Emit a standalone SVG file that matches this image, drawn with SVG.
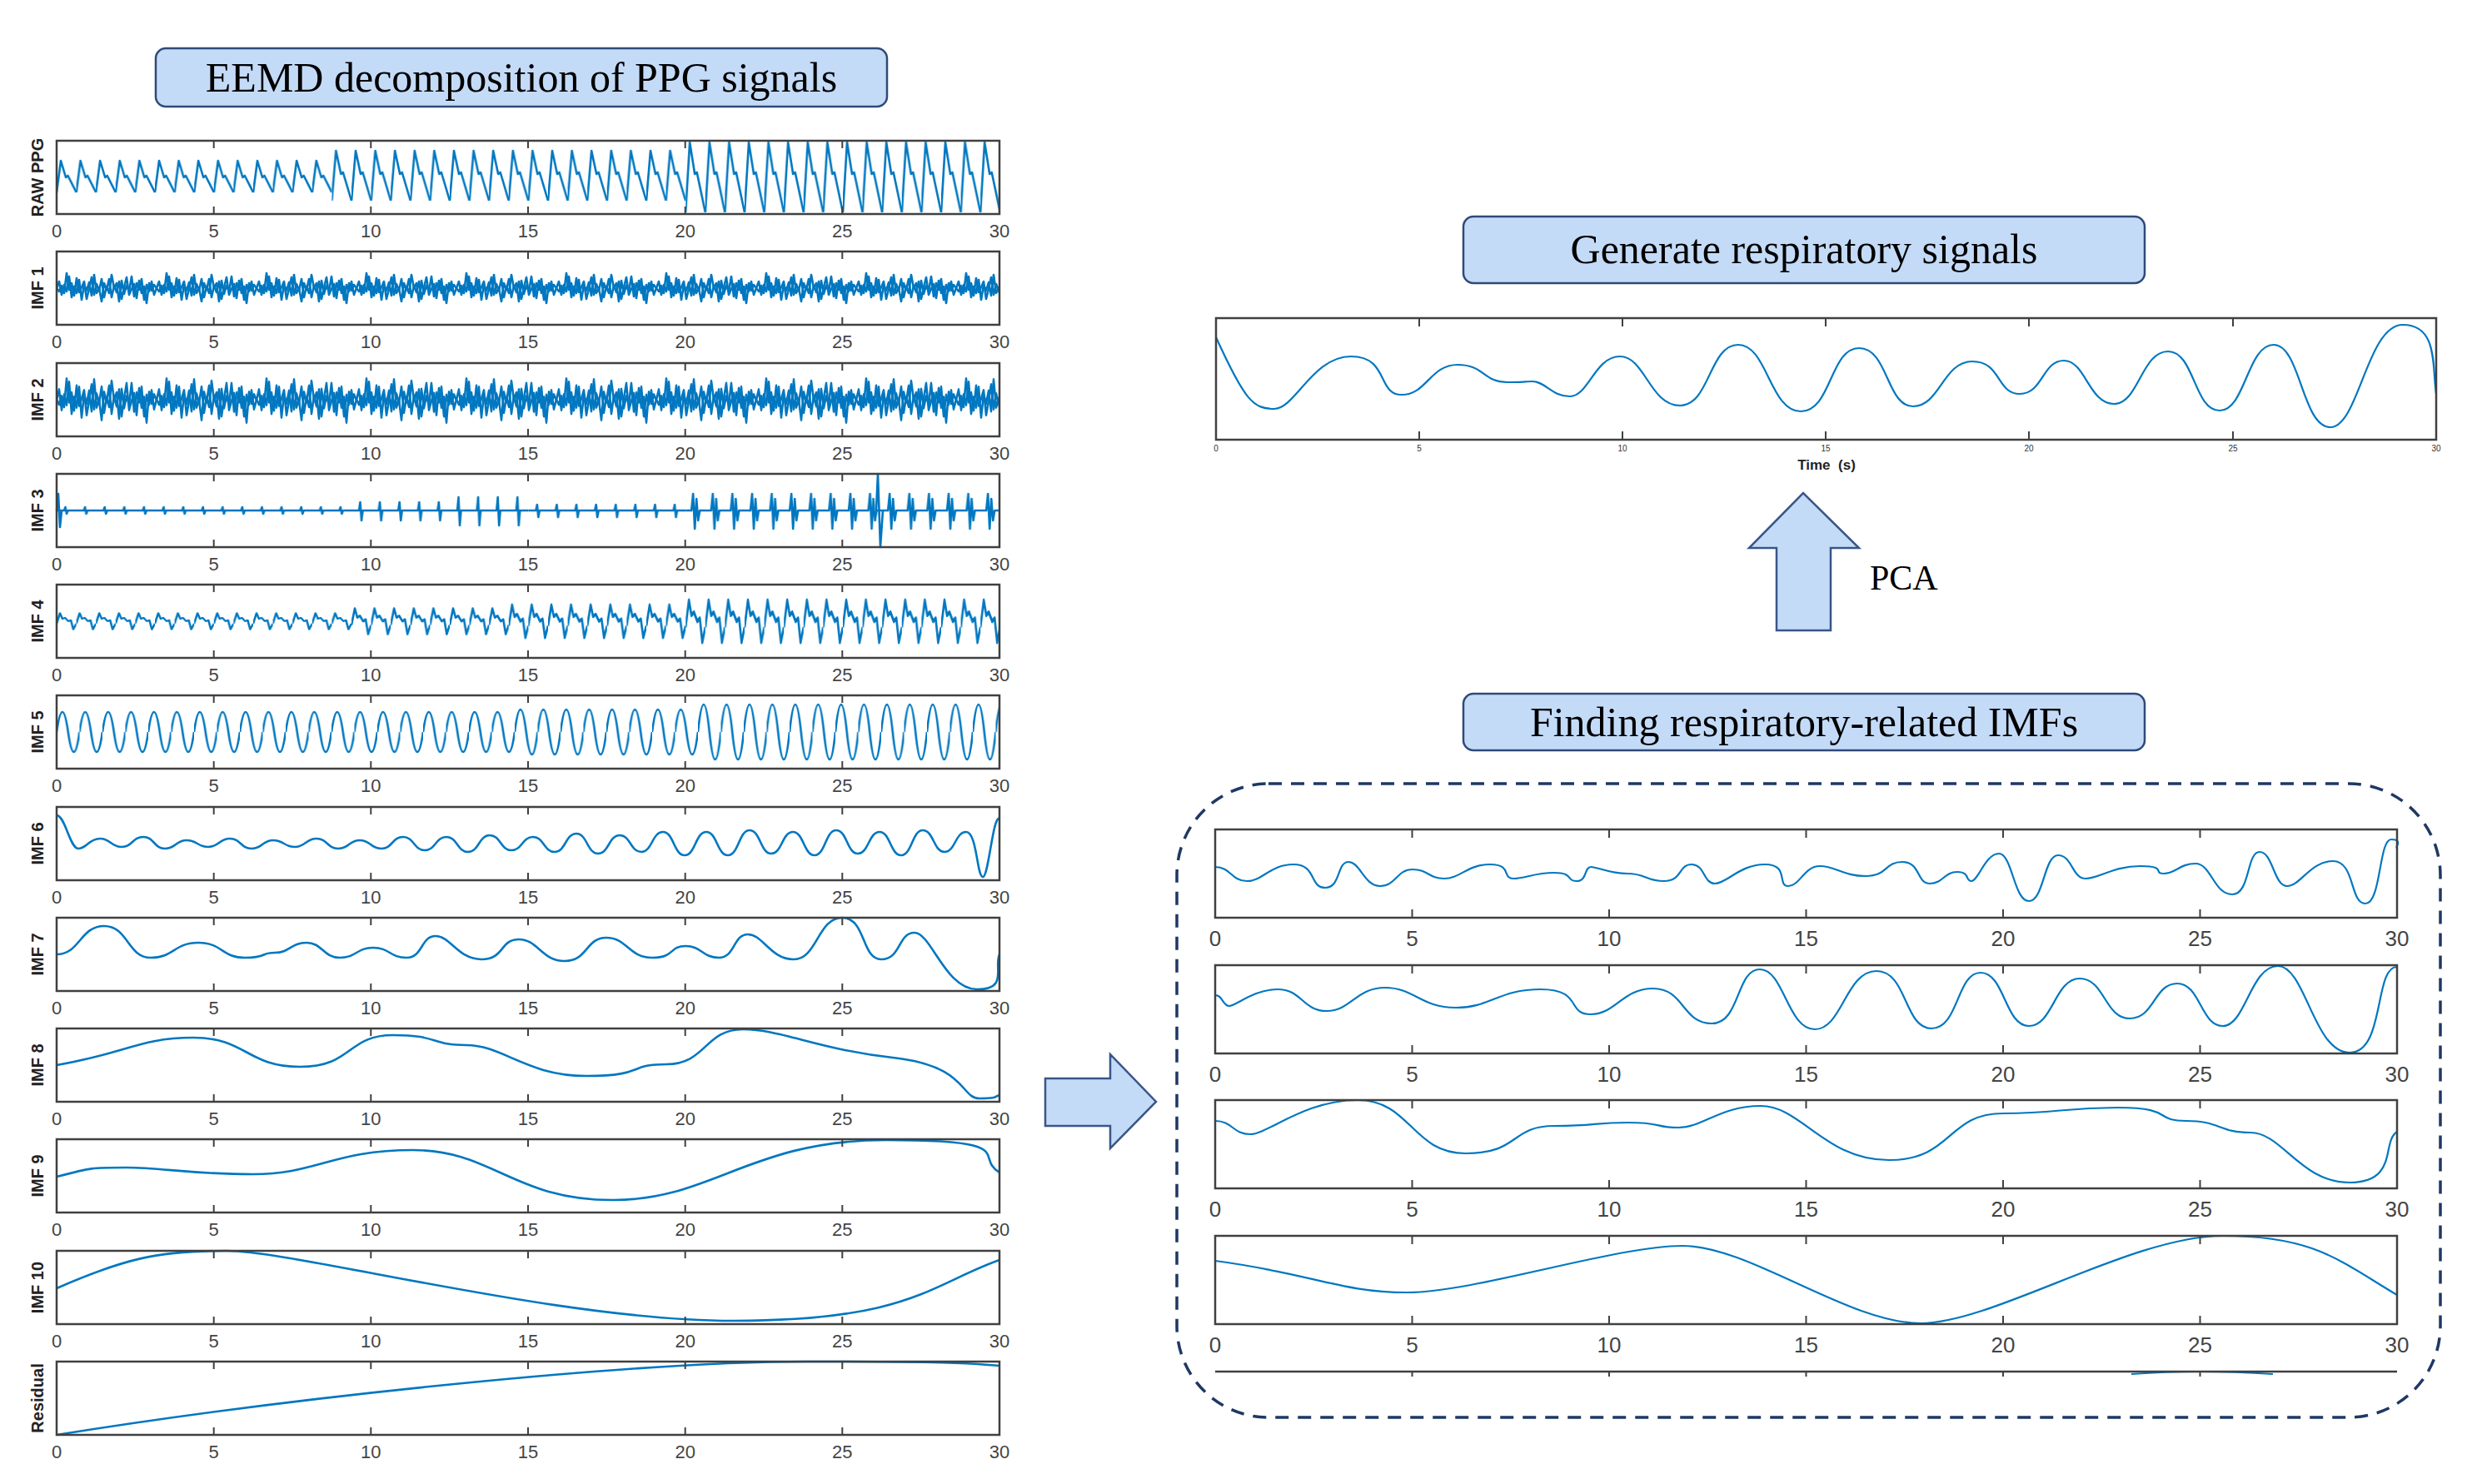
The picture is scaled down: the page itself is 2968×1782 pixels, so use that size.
<svg xmlns="http://www.w3.org/2000/svg" xmlns:xlink="http://www.w3.org/1999/xlink" width="2968" height="1782" viewBox="0 0 2968 1782">
<style>
.ax{fill:none;stroke:#404040;stroke-width:2.5}
.tk{fill:none;stroke:#404040;stroke-width:2}
.sg{fill:none;stroke:#0077C0;stroke-width:2.6;stroke-linejoin:round}
.sgt{fill:none;stroke:#0077C0;stroke-width:2.2}
.tl{font-family:"Liberation Sans",Arial,sans-serif;font-size:22px;fill:#444;text-anchor:middle}
.tr{font-family:"Liberation Sans",Arial,sans-serif;font-size:26px;fill:#444;text-anchor:middle}
.tt{font-family:"Liberation Sans",Arial,sans-serif;font-size:10px;fill:#333;text-anchor:middle}
.yl{font-family:"Liberation Sans",Arial,sans-serif;font-size:20px;font-weight:bold;fill:#222;text-anchor:middle}
.box{fill:#C4DBF8;stroke:#2E4A78;stroke-width:2.5}
.bt{font-family:"Liberation Serif","Times New Roman",serif;font-size:50px;fill:#000;text-anchor:middle}
.arr{fill:#C4DBF8;stroke:#3A5688;stroke-width:2.5}
</style>
<defs>
<path id="tkL" class="tk" d="M0,0v9M188.7,0v9M377.3,0v9M566,0v9M754.7,0v9M943.3,0v9M1132,0v9M0,88v-9M188.7,88v-9M377.3,88v-9M566,88v-9M754.7,88v-9M943.3,88v-9M1132,88v-9"/>
<path id="tkR" class="tk" d="M236.5,0v10M473,0v10M709.5,0v10M946,0v10M1182.5,0v10M236.5,106v-10M473,106v-10M709.5,106v-10M946,106v-10M1182.5,106v-10"/>
<path id="n1" d="M0,44 L3,36 6,52 9,40 12,48 15,30 18,55 21,42 24,50 27,34 30,58 33,40 36,47 39,37 42,53 45,28 48,50 51,44 54,60 57,38 60,46 63,33 66,55 69,41 72,49 75,36 78,57 81,43 84,31 87,52 90,45 93,39 96,56 99,35 102,50 105,42 108,62 111,38 114,47 117,40 120,44"/>
<path id="b4" d="M0,48 L4,30 7,40 10,38 14,44 17,42 20,58 23.6,48"/>
<pattern id="pn1" patternUnits="userSpaceOnUse" x="0" y="0" width="120" height="88">
<use xlink:href="#n1" class="sg" stroke-width="2"/>
<use xlink:href="#n1" class="sg" stroke-width="2" transform="translate(120,88) scale(-1,-1)"/>
</pattern>
<pattern id="pn2" patternUnits="userSpaceOnUse" x="0" y="0" width="120" height="88">
<use xlink:href="#n1" class="sg" stroke-width="2" transform="translate(0,44) scale(1,1.5) translate(0,-44)"/>
<use xlink:href="#n1" class="sg" stroke-width="2" transform="translate(120,44) scale(-1,-1.4) translate(0,-44)"/>
</pattern>
<pattern id="z3" patternUnits="userSpaceOnUse" width="23.6" height="88"><path class="sg" d="M0,44 H9 L10.5,40 12,48 13.5,44 H23.6"/></pattern>
<pattern id="z8" patternUnits="userSpaceOnUse" width="23.6" height="88"><path class="sg" d="M0,44 H9 L10.5,34 12,56 13.5,44 H23.6"/></pattern>
<pattern id="z14" patternUnits="userSpaceOnUse" width="23.6" height="88"><path class="sg" d="M0,44 H9 L10.5,28 12,62 13.5,44 H23.6"/></pattern>
<pattern id="z6" patternUnits="userSpaceOnUse" width="23.6" height="88"><path class="sg" d="M0,44 H9 L10.5,37 12,52 13.5,44 H23.6"/></pattern>
<pattern id="z22" patternUnits="userSpaceOnUse" width="23.6" height="88"><path class="sg" d="M0,44 H7 L9,24 11,66 13,30 15,56 17,44 H23.6"/></pattern>
<pattern id="w6" patternUnits="userSpaceOnUse" width="23.6" height="88"><use xlink:href="#b4" class="sg" transform="translate(0,44) scale(1,0.7) translate(0,-44)"/></pattern>
<pattern id="w11" patternUnits="userSpaceOnUse" width="23.6" height="88"><use xlink:href="#b4" class="sg" transform="translate(0,44) scale(1,1.1) translate(0,-44)"/></pattern>
<pattern id="w14" patternUnits="userSpaceOnUse" width="23.6" height="88"><use xlink:href="#b4" class="sg" transform="translate(0,44) scale(1,1.4) translate(0,-44)"/></pattern>
<pattern id="w18" patternUnits="userSpaceOnUse" width="23.6" height="88"><use xlink:href="#b4" class="sg" transform="translate(0,44) scale(1,1.8) translate(0,-44)"/></pattern>
<pattern id="s15" patternUnits="userSpaceOnUse" width="27.5" height="88"><path class="sg" d="M0,44 Q6.875,-4 13.75,44 T27.5,44"/></pattern>
<pattern id="s18" patternUnits="userSpaceOnUse" width="27.5" height="88"><path class="sg" d="M0,44 Q6.875,-10 13.75,44 T27.5,44"/></pattern>
<pattern id="s22" patternUnits="userSpaceOnUse" width="27.5" height="88"><path class="sg" d="M0,44 Q6.875,-22 13.75,44 T27.5,44"/></pattern>
<pattern id="pA" patternUnits="userSpaceOnUse" width="23.6" height="88"><path class="sg" d="M0,62 L5,24 11,44 13.5,42 23.6,62"/></pattern>
<pattern id="pB" patternUnits="userSpaceOnUse" width="23.6" height="88"><path class="sg" d="M0,72 L5,12 11,40 13.5,38 23.6,72"/></pattern>
<pattern id="pC" patternUnits="userSpaceOnUse" width="23.6" height="88"><path class="sg" d="M0,86 L5,2 11,40 13.5,38 23.6,86"/></pattern>
</defs>

<g id="title-eemd">
<rect class="box" x="187" y="58" width="878" height="70" rx="12"/>
<text class="bt" x="626" y="110">EEMD decomposition of PPG signals</text>
</g>

<g id="plot-raw" transform="translate(68,169)">
<rect x="0" y="0" width="330.4" height="88" fill="url(#pA)"/><rect x="330.4" y="0" width="424.8" height="88" fill="url(#pB)"/><rect x="755.2" y="0" width="376.8" height="88" fill="url(#pC)"/>
<rect class="ax" width="1132" height="88"/><use xlink:href="#tkL"/>
<text class="yl" transform="translate(-16,44) rotate(-90)">RAW PPG</text>
<text class="tl" x="0" y="116">0</text><text class="tl" x="188.7" y="116">5</text><text class="tl" x="377.3" y="116">10</text><text class="tl" x="566" y="116">15</text><text class="tl" x="754.7" y="116">20</text><text class="tl" x="943.3" y="116">25</text><text class="tl" x="1132" y="116">30</text>
</g>
<g id="plot-imf1" transform="translate(68,302)">
<rect width="1132" height="88" fill="url(#pn1)"/>
<rect class="ax" width="1132" height="88"/><use xlink:href="#tkL"/>
<text class="yl" transform="translate(-16,44) rotate(-90)">IMF 1</text>
<text class="tl" x="0" y="116">0</text><text class="tl" x="188.7" y="116">5</text><text class="tl" x="377.3" y="116">10</text><text class="tl" x="566" y="116">15</text><text class="tl" x="754.7" y="116">20</text><text class="tl" x="943.3" y="116">25</text><text class="tl" x="1132" y="116">30</text>
</g>
<g id="plot-imf2" transform="translate(68,436)">
<rect width="1132" height="88" fill="url(#pn2)"/>
<rect class="ax" width="1132" height="88"/><use xlink:href="#tkL"/>
<text class="yl" transform="translate(-16,44) rotate(-90)">IMF 2</text>
<text class="tl" x="0" y="116">0</text><text class="tl" x="188.7" y="116">5</text><text class="tl" x="377.3" y="116">10</text><text class="tl" x="566" y="116">15</text><text class="tl" x="754.7" y="116">20</text><text class="tl" x="943.3" y="116">25</text><text class="tl" x="1132" y="116">30</text>
</g>
<g id="plot-imf3" transform="translate(68,569)">
<rect x="0" width="354" height="88" fill="url(#z3)"/><rect x="354" width="118" height="88" fill="url(#z8)"/><rect x="472" width="94.4" height="88" fill="url(#z14)"/><rect x="566.4" width="188.8" height="88" fill="url(#z6)"/><rect x="755.2" width="376.8" height="88" fill="url(#z22)"/>
<path class="sg" d="M0,44 L2,24 4,64 6,44 M984,44 L986,0 989,88 992,44"/>
<rect class="ax" width="1132" height="88"/><use xlink:href="#tkL"/>
<text class="yl" transform="translate(-16,44) rotate(-90)">IMF 3</text>
<text class="tl" x="0" y="116">0</text><text class="tl" x="188.7" y="116">5</text><text class="tl" x="377.3" y="116">10</text><text class="tl" x="566" y="116">15</text><text class="tl" x="754.7" y="116">20</text><text class="tl" x="943.3" y="116">25</text><text class="tl" x="1132" y="116">30</text>
</g>
<g id="plot-imf4" transform="translate(68,702)">
<rect x="0" width="354" height="88" fill="url(#w6)"/><rect x="354" width="188.8" height="88" fill="url(#w11)"/><rect x="542.8" width="212.4" height="88" fill="url(#w14)"/><rect x="755.2" width="376.8" height="88" fill="url(#w18)"/>
<rect class="ax" width="1132" height="88"/><use xlink:href="#tkL"/>
<text class="yl" transform="translate(-16,44) rotate(-90)">IMF 4</text>
<text class="tl" x="0" y="116">0</text><text class="tl" x="188.7" y="116">5</text><text class="tl" x="377.3" y="116">10</text><text class="tl" x="566" y="116">15</text><text class="tl" x="754.7" y="116">20</text><text class="tl" x="943.3" y="116">25</text><text class="tl" x="1132" y="116">30</text>
</g>
<g id="plot-imf5" transform="translate(68,835)">
<rect x="0" width="550" height="88" fill="url(#s15)"/><rect x="550" width="220" height="88" fill="url(#s18)"/><rect x="770" width="362" height="88" fill="url(#s22)"/>
<rect class="ax" width="1132" height="88"/><use xlink:href="#tkL"/>
<text class="yl" transform="translate(-16,44) rotate(-90)">IMF 5</text>
<text class="tl" x="0" y="116">0</text><text class="tl" x="188.7" y="116">5</text><text class="tl" x="377.3" y="116">10</text><text class="tl" x="566" y="116">15</text><text class="tl" x="754.7" y="116">20</text><text class="tl" x="943.3" y="116">25</text><text class="tl" x="1132" y="116">30</text>
</g>
<g id="plot-imf6" transform="translate(68,969)">
<path class="sg" d="M0,10 C10,10 16,50 26,50 S39,38 52,38 S65,48 78,48 S91,36 104,36 S117,50 130,50 S143,40 156,40 S169,48 182,48 S195,38 208,38 S221,50 234,50 S247,40 260,40 S273,48 286,48 S299,38 312,38 S325,50 338,50 S351,40 364,40 S377,50 390,50 S403,36 416,36 S429,52 442,52 S455,36 468,36 S481,54 494,54 S507,34 520,34 S533,52 546,52 S559,36 572,36 S585,54 598,54 S611,32 624,32 S637,56 650,56 S663,34 676,34 S689,54 702,54 S715,30 728,30 S741,58 754,58 S767,30 780,30 S793,58 806,58 S819,28 832,28 S845,56 858,56 S871,30 884,30 S897,58 910,58 S923,28 936,28 S949,56 962,56 S975,30 988,30 S1001,58 1014,58 S1027,28 1040,28 S1053,54 1066,54 S1079,30 1092,30 S1105,84 1112,84 S1124,10 1132,14"/>
<rect class="ax" width="1132" height="88"/><use xlink:href="#tkL"/>
<text class="yl" transform="translate(-16,44) rotate(-90)">IMF 6</text>
<text class="tl" x="0" y="116">0</text><text class="tl" x="188.7" y="116">5</text><text class="tl" x="377.3" y="116">10</text><text class="tl" x="566" y="116">15</text><text class="tl" x="754.7" y="116">20</text><text class="tl" x="943.3" y="116">25</text><text class="tl" x="1132" y="116">30</text>
</g>
<g id="plot-imf7" transform="translate(68,1102)">
<path class="sg" d="M0,44 C28,44 28,10 57,10 S85,48 113,48 S141,30 170,30 S198,48 226,48 S244,42 262,42 S281,30 300,30 S320,48 340,48 S360,36 380,36 S400,48 420,48 S437,22 455,22 S482,50 510,50 S532,26 555,26 S582,52 610,52 S635,24 660,24 S687,48 715,48 S735,34 755,34 S775,48 795,48 S812,20 830,20 S857,50 885,50 S914,0 943,0 S966,50 990,50 S1010,18 1030,18 S1067,86 1105,86 S1125,60 1132,44"/>
<rect class="ax" width="1132" height="88"/><use xlink:href="#tkL"/>
<text class="yl" transform="translate(-16,44) rotate(-90)">IMF 7</text>
<text class="tl" x="0" y="116">0</text><text class="tl" x="188.7" y="116">5</text><text class="tl" x="377.3" y="116">10</text><text class="tl" x="566" y="116">15</text><text class="tl" x="754.7" y="116">20</text><text class="tl" x="943.3" y="116">25</text><text class="tl" x="1132" y="116">30</text>
</g>
<g id="plot-imf8" transform="translate(68,1235)">
<path class="sg" d="M0,44 C82,30 100,11 164,11 S228,46 292,46 S348,8 404,8 S448,20 492,20 S564,57 636,57 S684,43 732,43 S778,1 824,1 S914,25 1004,35 S1085,84 1108,84 S1125,82 1132,80"/>
<rect class="ax" width="1132" height="88"/><use xlink:href="#tkL"/>
<text class="yl" transform="translate(-16,44) rotate(-90)">IMF 8</text>
<text class="tl" x="0" y="116">0</text><text class="tl" x="188.7" y="116">5</text><text class="tl" x="377.3" y="116">10</text><text class="tl" x="566" y="116">15</text><text class="tl" x="754.7" y="116">20</text><text class="tl" x="943.3" y="116">25</text><text class="tl" x="1132" y="116">30</text>
</g>
<g id="plot-imf9" transform="translate(68,1368)">
<path class="sg" d="M0,45 C42,34 42,34 84,34 S160,42 236,42 S332,13 428,13 S548,73 668,73 S832,1 996,1 S1100,20 1132,40"/>
<rect class="ax" width="1132" height="88"/><use xlink:href="#tkL"/>
<text class="yl" transform="translate(-16,44) rotate(-90)">IMF 9</text>
<text class="tl" x="0" y="116">0</text><text class="tl" x="188.7" y="116">5</text><text class="tl" x="377.3" y="116">10</text><text class="tl" x="566" y="116">15</text><text class="tl" x="754.7" y="116">20</text><text class="tl" x="943.3" y="116">25</text><text class="tl" x="1132" y="116">30</text>
</g>
<g id="plot-imf10" transform="translate(68,1502)">
<path class="sg" d="M0,45 C80,10 120,0 204,0 S600,84 812,84 S1050,40 1132,11"/>
<rect class="ax" width="1132" height="88"/><use xlink:href="#tkL"/>
<text class="yl" transform="translate(-16,44) rotate(-90)">IMF 10</text>
<text class="tl" x="0" y="116">0</text><text class="tl" x="188.7" y="116">5</text><text class="tl" x="377.3" y="116">10</text><text class="tl" x="566" y="116">15</text><text class="tl" x="754.7" y="116">20</text><text class="tl" x="943.3" y="116">25</text><text class="tl" x="1132" y="116">30</text>
</g>
<g id="plot-residual" transform="translate(68,1635)">
<path class="sg" d="M0,88 C300,40 700,0 900,0 S1100,3 1132,5"/>
<rect class="ax" width="1132" height="88"/><use xlink:href="#tkL"/>
<text class="yl" transform="translate(-16,44) rotate(-90)">Residual</text>
<text class="tl" x="0" y="116">0</text><text class="tl" x="188.7" y="116">5</text><text class="tl" x="377.3" y="116">10</text><text class="tl" x="566" y="116">15</text><text class="tl" x="754.7" y="116">20</text><text class="tl" x="943.3" y="116">25</text><text class="tl" x="1132" y="116">30</text>
</g>

<g id="connectors">
<path id="arrow-right" class="arr" d="M1255,1295 H1333 V1266 L1388,1323 L1333,1379 V1352 H1255 Z"/>
<path id="arrow-up" class="arr" d="M2133,757 V658 H2100 L2165,592 L2232,658 H2198 V757 Z"/>
<text x="2245" y="708" font-family="Liberation Serif,'Times New Roman',serif" font-size="42" fill="#000">PCA</text>
</g>

<g id="box-generate">
<rect class="box" x="1757" y="260" width="818" height="80" rx="12"/>
<text class="bt" x="2166" y="316">Generate respiratory signals</text>
</g>

<g id="plot-resp" transform="translate(1460,382)">
<path class="sgt" d="M0,23 C35,100 45,109 70,109 S116,46 162,46 S193,92 223,92 S257,56 290,56 S320,77 350,77 S365,76 380,76 S403,94 425,94 S455,46 485,46 S521,105 557,105 S592,32 627,32 S665,112 702,112 S737,36 772,36 S805,106 837,106 S873,52 908,52 S937,91 965,91 S992,51 1018,51 S1048,103 1078,103 S1111,40 1143,40 S1174,111 1205,111 S1238,32 1270,32 S1304,131 1338,131 S1382,8 1425,8 S1460,60 1465,91"/>
<rect class="ax" width="1465" height="146"/>
<path class="tk" d="M244,0v10M488,0v10M732,0v10M976,0v10M1221,0v10M244,146v-10M488,146v-10M732,146v-10M976,146v-10M1221,146v-10"/>
<text class="tt" x="0" y="160">0</text><text class="tt" x="244" y="160">5</text><text class="tt" x="488" y="160">10</text><text class="tt" x="732" y="160">15</text><text class="tt" x="976" y="160">20</text><text class="tt" x="1221" y="160">25</text><text class="tt" x="1465" y="160">30</text>
<text x="733" y="182" font-family="Liberation Sans,Arial,sans-serif" font-size="17" font-weight="bold" fill="#222" text-anchor="middle" xml:space="preserve">Time  (s)</text>
</g>

<g id="box-finding">
<rect class="box" x="1757" y="833" width="818" height="68" rx="12"/>
<text class="bt" x="2166" y="884">Finding respiratory-related IMFs</text>
</g>

<g id="imf-selection">
<rect x="1413" y="941" width="1517" height="761" rx="110" fill="none" stroke="#1F3864" stroke-width="3.5" stroke-dasharray="16 11"/>
<g id="sel-1" transform="translate(1459,996)">
<path class="sgt" d="M0,45 C19,45 19,62 38,62 S66,42 94,42 S113,70 132,70 S146,39 160,39 S179,68 198,68 S218,48 237,48 S256,59 275,59 S303,42 330,42 S344,59 358,59 S383,52 407,52 S421,62 434,62 S443,45 451,45 S473,53 495,53 S517,62 539,62 S556,42 572,42 S586,65 600,65 S630,42 660,42 S674,68 688,68 S707,44 726,44 S754,56 781,56 S803,39 825,39 S842,65 858,65 S875,51 891,51 S900,62 908,62 S925,29 941,29 S959,86 977,86 S995,31 1012,31 S1029,59 1045,59 S1078,44 1111,44 S1125,53 1139,53 S1158,41 1177,41 S1199,78 1221,78 S1238,27 1254,27 S1271,68 1287,68 S1315,38 1342,38 S1362,89 1381,89 S1397,12 1412,12 S1416,22 1419,22"/>
<rect class="ax" width="1419" height="106"/><use xlink:href="#tkR"/>
<text class="tr" x="0" y="140">0</text><text class="tr" x="236.5" y="140">5</text><text class="tr" x="473" y="140">10</text><text class="tr" x="709.5" y="140">15</text><text class="tr" x="946" y="140">20</text><text class="tr" x="1182.5" y="140">25</text><text class="tr" x="1419" y="140">30</text>
</g>
<g id="sel-2" transform="translate(1459,1159)">
<path class="sgt" d="M0,36 C9,36 9,49 17,49 S46,29 75,29 S105,55 134,55 S169,27 204,27 S247,51 289,51 S340,29 391,29 S421,59 451,59 S489,28 526,28 S561,70 596,70 S625,5 654,5 S687,77 720,77 S757,7 794,7 S827,76 860,76 S890,9 919,9 S948,73 977,73 S1008,16 1038,16 S1068,64 1098,64 S1127,22 1155,22 S1183,73 1210,73 S1243,1 1276,1 S1319,105 1362,105 S1391,2 1419,2"/>
<rect class="ax" width="1419" height="106"/><use xlink:href="#tkR"/>
<text class="tr" x="0" y="140">0</text><text class="tr" x="236.5" y="140">5</text><text class="tr" x="473" y="140">10</text><text class="tr" x="709.5" y="140">15</text><text class="tr" x="946" y="140">20</text><text class="tr" x="1182.5" y="140">25</text><text class="tr" x="1419" y="140">30</text>
</g>
<g id="sel-3" transform="translate(1459,1321)">
<path class="sgt" d="M0,25 C21,25 21,41 42,41 S107,0 171,0 S236,64 301,64 S354,31 407,31 S451,27 495,27 S526,33 556,33 S606,7 655,7 S732,72 809,72 S878,16 946,16 S1015,9 1084,9 S1125,25 1166,25 S1205,39 1243,39 S1303,99 1362,99 S1400,50 1419,38"/>
<rect class="ax" width="1419" height="106"/><use xlink:href="#tkR"/>
<text class="tr" x="0" y="140">0</text><text class="tr" x="236.5" y="140">5</text><text class="tr" x="473" y="140">10</text><text class="tr" x="709.5" y="140">15</text><text class="tr" x="946" y="140">20</text><text class="tr" x="1182.5" y="140">25</text><text class="tr" x="1419" y="140">30</text>
</g>
<g id="sel-4" transform="translate(1459,1484)">
<path class="sgt" d="M0,30 C115,45 150,68 231,68 S480,12 561,12 S760,105 847,105 S1100,0 1210,0 S1350,30 1419,71"/>
<rect class="ax" width="1419" height="106"/><use xlink:href="#tkR"/>
<text class="tr" x="0" y="140">0</text><text class="tr" x="236.5" y="140">5</text><text class="tr" x="473" y="140">10</text><text class="tr" x="709.5" y="140">15</text><text class="tr" x="946" y="140">20</text><text class="tr" x="1182.5" y="140">25</text><text class="tr" x="1419" y="140">30</text>
</g>
<g id="sel-5" transform="translate(1459,1647)">
<path class="sgt" d="M1100,3 Q1180,-3 1270,3"/>
<path class="ax" d="M0,0 H1419"/>
<path class="tk" d="M236.5,0v6M473,0v6M709.5,0v6M946,0v6M1182.5,0v6"/>
</g>
</g>
</svg>
